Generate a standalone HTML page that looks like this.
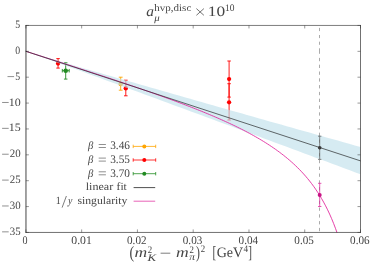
<!DOCTYPE html><html><head><meta charset="utf-8"><style>html,body{margin:0;padding:0;background:#fff;width:374px;height:262px;overflow:hidden}</style></head><body><svg width="374" height="262" viewBox="0 0 374 262" style="position:absolute;left:0;top:0;will-change:transform;font-family:'Liberation Serif',serif" text-rendering="geometricPrecision">
<rect width="374" height="262" fill="#fff"/>
<defs><clipPath id="c"><rect x="25.90" y="25.45" width="334.60" height="207.00"/></clipPath></defs>
<g stroke="#ffa500" stroke-width="0.90" fill="#ffa500" opacity="1"><path d="M120.70 77.20V90.20 M118.80 77.20H122.60 M118.80 90.20H122.60"/><circle cx="120.70" cy="83.90" r="2.25" stroke="none"/></g>
<g stroke="#ff0000" stroke-width="0.90" fill="#ff0000" opacity="1"><path d="M58.05 58.60V68.10 M56.30 58.60H59.80 M56.30 68.10H59.80"/><circle cx="58.05" cy="63.50" r="2.15" stroke="none"/></g>
<g stroke="#ff0000" stroke-width="0.90" fill="#ff0000" opacity="1"><path d="M125.80 80.20V95.80 M124.00 80.20H127.60 M124.00 95.80H127.60"/><circle cx="125.80" cy="88.30" r="2.20" stroke="none"/></g>
<g stroke="#ff0000" stroke-width="0.90" fill="#ff0000" opacity="1"><path d="M229.10 61.00V97.10 M227.35 61.00H230.85 M227.35 97.10H230.85"/><circle cx="229.10" cy="79.10" r="2.15" stroke="none"/></g>
<g stroke="#ff0000" stroke-width="0.90" fill="#ff0000" opacity="1"><path d="M229.10 83.70V120.00 M227.35 83.70H230.85 M227.35 120.00H230.85"/><circle cx="229.10" cy="102.30" r="2.15" stroke="none"/></g>
<g stroke="#228b22" stroke-width="0.90" fill="#228b22" opacity="1"><path d="M65.70 62.80V79.10 M63.95 62.80H67.45 M63.95 79.10H67.45"/><path d="M62.30 70.70H69.20 M62.30 68.95V72.45 M69.20 68.95V72.45"/><circle cx="65.70" cy="70.70" r="2.30" stroke="none"/></g>
<path d="M25.60 51.20 L31.28 52.91 L36.95 54.60 L42.63 56.28 L48.31 57.95 L53.98 59.62 L59.66 61.28 L65.33 62.94 L71.01 64.59 L76.69 66.24 L82.36 67.89 L88.04 69.53 L93.72 71.17 L99.39 72.81 L105.07 74.45 L110.74 76.09 L116.42 77.72 L122.10 79.35 L127.77 80.99 L133.45 82.61 L139.13 84.24 L144.80 85.87 L150.48 87.49 L156.15 89.12 L161.83 90.74 L167.51 92.36 L173.18 93.98 L178.86 95.60 L184.54 97.22 L190.21 98.84 L195.89 100.45 L201.56 102.07 L207.24 103.68 L212.92 105.30 L218.59 106.91 L224.27 108.52 L229.95 110.13 L235.62 111.74 L241.30 113.35 L246.97 114.96 L252.65 116.57 L258.33 118.17 L264.00 119.78 L269.68 121.39 L275.36 122.99 L281.03 124.59 L286.71 126.20 L292.38 127.80 L298.06 129.40 L303.74 131.00 L309.41 132.60 L315.09 134.20 L320.77 135.80 L326.44 137.40 L332.12 139.00 L337.79 140.60 L343.47 142.20 L349.15 143.79 L354.82 145.39 L360.50 146.98 L360.50 174.28 L354.82 172.16 L349.15 170.05 L343.47 167.94 L337.79 165.83 L332.12 163.72 L326.44 161.61 L320.77 159.50 L315.09 157.39 L309.41 155.28 L303.74 153.17 L298.06 151.06 L292.38 148.96 L286.71 146.85 L281.03 144.74 L275.36 142.64 L269.68 140.54 L264.00 138.43 L258.33 136.33 L252.65 134.23 L246.97 132.13 L241.30 130.03 L235.62 127.93 L229.95 125.83 L224.27 123.73 L218.59 121.63 L212.92 119.53 L207.24 117.44 L201.56 115.34 L195.89 113.25 L190.21 111.16 L184.54 109.06 L178.86 106.97 L173.18 104.88 L167.51 102.79 L161.83 100.71 L156.15 98.62 L150.48 96.53 L144.80 94.45 L139.13 92.37 L133.45 90.29 L127.77 88.21 L122.10 86.13 L116.42 84.05 L110.74 81.97 L105.07 79.90 L99.39 77.83 L93.72 75.76 L88.04 73.69 L82.36 71.62 L76.69 69.56 L71.01 67.50 L65.33 65.44 L59.66 63.39 L53.98 61.34 L48.31 59.29 L42.63 57.25 L36.95 55.22 L31.28 53.20 L25.60 51.20Z" fill="#c0e0eb" fill-opacity="0.65" clip-path="url(#c)"/>
<path d="M25.60 51.20 L27.60 51.84 L29.60 52.48 L31.60 53.12 L33.60 53.76 L35.60 54.40 L37.60 55.04 L39.60 55.68 L41.60 56.32 L43.60 56.97 L45.60 57.61 L47.60 58.25 L49.60 58.89 L51.60 59.53 L53.60 60.17 L55.60 60.82 L57.60 61.46 L59.60 62.10 L61.60 62.74 L63.60 63.39 L65.60 64.03 L67.60 64.68 L69.60 65.32 L71.60 65.97 L73.60 66.61 L75.60 67.26 L77.60 67.91 L79.60 68.55 L81.60 69.20 L83.60 69.85 L85.60 70.50 L87.60 71.15 L89.60 71.80 L91.60 72.46 L93.60 73.11 L95.60 73.76 L97.60 74.42 L99.60 75.07 L101.60 75.73 L103.60 76.39 L105.60 77.05 L107.60 77.71 L109.60 78.37 L111.60 79.03 L113.60 79.69 L115.60 80.36 L117.60 81.02 L119.60 81.69 L121.60 82.36 L123.60 83.03 L125.60 83.70 L127.60 84.38 L129.60 85.05 L131.60 85.73 L133.60 86.41 L135.60 87.09 L137.60 87.78 L139.60 88.46 L141.60 89.15 L143.60 89.84 L145.60 90.53 L147.60 91.23 L149.60 91.92 L151.60 92.62 L153.60 93.32 L155.60 94.03 L157.60 94.74 L159.60 95.45 L161.60 96.16 L163.60 96.88 L165.60 97.60 L167.60 98.33 L169.60 99.05 L171.60 99.78 L173.60 100.52 L175.60 101.26 L177.60 102.00 L179.60 102.75 L181.60 103.50 L183.60 104.26 L185.60 105.02 L187.60 105.79 L189.60 106.56 L191.60 107.33 L193.60 108.11 L195.60 108.90 L197.60 109.70 L199.60 110.50 L201.60 111.30 L203.60 112.12 L205.60 112.94 L207.60 113.76 L209.60 114.60 L211.60 115.44 L213.60 116.29 L215.60 117.15 L217.60 118.01 L219.60 118.89 L221.60 119.78 L223.60 120.67 L225.60 121.58 L227.60 122.49 L229.60 123.42 L231.60 124.36 L233.60 125.31 L235.60 126.28 L237.60 127.25 L239.60 128.24 L241.60 129.25 L243.60 130.27 L245.60 131.31 L247.60 132.36 L249.60 133.43 L251.60 134.52 L253.60 135.63 L255.60 136.75 L257.60 137.90 L259.60 139.07 L261.60 140.27 L263.60 141.48 L265.60 142.73 L267.60 144.00 L269.60 145.30 L271.60 146.63 L273.60 147.99 L275.60 149.39 L277.60 150.82 L279.60 152.29 L281.60 153.80 L283.60 155.35 L285.60 156.95 L287.60 158.59 L289.60 160.29 L291.60 162.04 L293.60 163.85 L295.60 165.72 L297.60 167.66 L299.60 169.67 L301.60 171.76 L303.60 173.93 L305.60 176.20 L307.60 178.56 L309.60 181.02 L311.60 183.60 L313.60 186.30 L315.60 189.14 L317.60 192.12 L319.60 195.26 L321.60 198.59 L323.60 202.10 L325.60 205.84 L327.60 209.81 L329.60 214.04 L331.60 218.58 L333.60 223.45 L335.60 228.69 L337.60 234.35 L339.60 240.50" fill="none" stroke="#e0209a" stroke-width="0.85" clip-path="url(#c)"/>
<path d="M25.60 51.20L360.50 160.88" stroke="#1a1a1a" stroke-width="0.65"/>
<path d="M319.5 27.90V31.10M319.5 35.00V38.10M319.5 41.70V44.80M319.5 48.30V53.80M319.5 57.90V61.20M319.5 64.70V68.00M319.5 71.50V74.80M319.5 78.30V81.60M319.5 85.10V88.40M319.5 91.90V95.20M319.5 98.70V102.00M319.5 105.50V108.80M319.5 112.30V115.60M319.5 119.10V122.40M319.5 125.90V129.20M319.5 132.70V136.00M319.5 139.50V142.80M319.5 146.30V149.60M319.5 153.10V156.40M319.5 159.90V163.20M319.5 166.70V170.00M319.5 173.50V176.80M319.5 180.30V183.60M319.5 187.10V190.40M319.5 193.90V197.20M319.5 200.70V204.00M319.5 207.50V210.80M319.5 214.30V217.60M319.5 221.10V224.40M319.5 227.90V231.20" stroke="#777" stroke-width="0.62"/>
<g stroke="#555" stroke-width="0.70" fill="#3a3a3a" opacity="1"><path d="M319.70 136.20V159.40 M318.00 136.20H321.40 M318.00 159.40H321.40"/><circle cx="319.70" cy="147.70" r="1.80" stroke="none"/></g>
<g stroke="#dd2299" stroke-width="0.75" fill="#c71585" opacity="1"><path d="M319.70 183.30V206.50 M318.00 183.30H321.40 M318.00 206.50H321.40"/><circle cx="319.70" cy="195.00" r="2.00" stroke="none"/></g>
<path d="M25.98 25.15V232.75" stroke="#111" stroke-width="0.78"/>
<path d="M360.50 25.15V232.75" stroke="#111" stroke-width="0.6"/>
<path d="M25.60 25.45H360.80" stroke="#111" stroke-width="0.55"/>
<path d="M25.60 232.45H360.80" stroke="#111" stroke-width="0.6"/>
<path d="M25.90 232.45v-3 M25.90 25.45v3 M81.67 232.45v-3 M81.67 25.45v3 M137.43 232.45v-3 M137.43 25.45v3 M193.20 232.45v-3 M193.20 25.45v3 M248.97 232.45v-3 M248.97 25.45v3 M304.73 232.45v-3 M304.73 25.45v3 M360.50 232.45v-3 M360.50 25.45v3 M25.90 232.45h3 M360.50 232.45h-3 M25.90 206.57h3 M360.50 206.57h-3 M25.90 180.70h3 M360.50 180.70h-3 M25.90 154.82h3 M360.50 154.82h-3 M25.90 128.95h3 M360.50 128.95h-3 M25.90 103.08h3 M360.50 103.08h-3 M25.90 77.20h3 M360.50 77.20h-3 M25.90 51.33h3 M360.50 51.33h-3 M25.90 25.45h3 M360.50 25.45h-3 " stroke="#333" stroke-width="0.5"/>
<path d="M2.10 231.85h6.6" stroke="#454545" stroke-width="0.6"/>
<path d="M2.10 205.97h6.6" stroke="#454545" stroke-width="0.6"/>
<path d="M2.10 180.10h6.6" stroke="#454545" stroke-width="0.6"/>
<path d="M2.10 154.22h6.6" stroke="#454545" stroke-width="0.6"/>
<path d="M2.10 128.35h6.6" stroke="#454545" stroke-width="0.6"/>
<path d="M2.10 102.48h6.6" stroke="#454545" stroke-width="0.6"/>
<path d="M7.50 76.60h6.6" stroke="#454545" stroke-width="0.6"/>
<path d="M98.7 144.50h7.2M98.7 147.50h7.2" stroke="#454545" stroke-width="0.6"/>
<g stroke="#ffa500" stroke-width="0.80" fill="#ffa500" opacity="1"><path d="M133.20 146.40H155.70 M133.20 144.70V148.10 M155.70 144.70V148.10"/><circle cx="144.30" cy="146.40" r="2.00" stroke="none"/></g>
<path d="M98.7 158.10h7.2M98.7 161.10h7.2" stroke="#454545" stroke-width="0.6"/>
<g stroke="#ff0000" stroke-width="0.80" fill="#ff0000" opacity="1"><path d="M133.20 160.00H155.70 M133.20 158.30V161.70 M155.70 158.30V161.70"/><circle cx="144.30" cy="160.00" r="2.00" stroke="none"/></g>
<path d="M98.7 171.80h7.2M98.7 174.80h7.2" stroke="#454545" stroke-width="0.6"/>
<g stroke="#228b22" stroke-width="0.80" fill="#228b22" opacity="1"><path d="M133.20 173.70H155.70 M133.20 172.00V175.40 M155.70 172.00V175.40"/><circle cx="144.30" cy="173.70" r="2.00" stroke="none"/></g>
<path d="M62.1 207.6L66.4 196" stroke="#454545" stroke-width="0.7"/>
<path d="M133.6 187.60H155.2" stroke="#222" stroke-width="0.8"/>
<path d="M133.6 201.20H155.2" stroke="#e0209a" stroke-width="0.7"/>
<path d="M196.4 8.6L203.9 15.3M203.9 8.6L196.4 15.3" stroke="#454545" stroke-width="0.75"/>
<path d="M160.6 253.2h9.7" stroke="#454545" stroke-width="0.7"/>
<g style="filter:grayscale(1)"><text transform="translate(9.80 234.90) scale(0.964 1)" font-size="11.3px"  fill="#454545">35</text>
<text transform="translate(9.80 209.02) scale(0.964 1)" font-size="11.3px"  fill="#454545">30</text>
<text transform="translate(9.80 183.15) scale(0.964 1)" font-size="11.3px"  fill="#454545">25</text>
<text transform="translate(9.80 157.27) scale(0.964 1)" font-size="11.3px"  fill="#454545">20</text>
<text transform="translate(8.74 131.40) scale(1.060 1)" font-size="11.3px"  fill="#454545">15</text>
<text transform="translate(8.74 105.53) scale(1.060 1)" font-size="11.3px"  fill="#454545">10</text>
<text transform="translate(15.20 79.65) scale(0.867 1)" font-size="11.3px"  fill="#454545">5</text>
<text transform="translate(15.20 53.78) scale(0.867 1)" font-size="11.3px"  fill="#454545">0</text>
<text transform="translate(15.20 27.90) scale(0.867 1)" font-size="11.3px"  fill="#454545">5</text>
<text transform="translate(22.40 244.00) scale(0.867 1)" font-size="11.6px"  fill="#454545">0</text>
<text transform="translate(71.27 244.00) scale(1.011 1)" font-size="11.6px"  fill="#454545">0.01</text>
<text transform="translate(127.03 244.00) scale(0.960 1)" font-size="11.6px"  fill="#454545">0.02</text>
<text transform="translate(182.80 244.00) scale(0.960 1)" font-size="11.6px"  fill="#454545">0.03</text>
<text transform="translate(238.57 244.00) scale(0.960 1)" font-size="11.6px"  fill="#454545">0.04</text>
<text transform="translate(294.33 244.00) scale(0.960 1)" font-size="11.6px"  fill="#454545">0.05</text>
<text transform="translate(350.10 244.00) scale(0.960 1)" font-size="11.6px"  fill="#454545">0.06</text>
<text transform="translate(88.10 149.30) scale(0.967 1)" font-size="11px" font-style="italic" fill="#454545">β</text>
<text transform="translate(110.20 149.30) scale(0.975 1)" font-size="11.6px"  fill="#454545">3.46</text>
<text transform="translate(88.10 162.90) scale(0.967 1)" font-size="11px" font-style="italic" fill="#454545">β</text>
<text transform="translate(110.20 162.90) scale(0.975 1)" font-size="11.6px"  fill="#454545">3.55</text>
<text transform="translate(88.10 176.60) scale(0.967 1)" font-size="11px" font-style="italic" fill="#454545">β</text>
<text transform="translate(110.20 176.60) scale(0.975 1)" font-size="11.6px"  fill="#454545">3.70</text>
<text transform="translate(85.70 190.40) scale(1.100 1)" font-size="11px"  fill="#454545">linear</text>
<text transform="translate(116.56 190.40) scale(1.044 1)" font-size="11px"  fill="#454545">fit</text>
<text transform="translate(55.70 204.20) scale(0.900 1)" font-size="11px"  fill="#454545">1</text>
<text transform="translate(68.00 204.20) scale(0.900 1)" font-size="11px" font-style="italic" fill="#454545">y</text>
<text transform="translate(77.40 204.20) scale(1.064 1)" font-size="11px"  fill="#454545">singularity</text>
<text transform="translate(146.20 15.70) scale(1.071 1)" font-size="14.4px" font-style="italic" fill="#454545">a</text>
<text transform="translate(154.30 10.80) scale(1.100 1)" font-size="10px"  fill="#454545">hvp,disc</text>
<text transform="translate(154.30 20.70) scale(1.080 1)" font-size="10px" font-style="italic" fill="#454545">μ</text>
<text transform="translate(207.78 15.70) scale(1.208 1)" font-size="14.4px"  fill="#454545">10</text>
<text transform="translate(224.96 10.80) scale(0.944 1)" font-size="10px"  fill="#454545">10</text>
<text transform="translate(129.50 258.10) scale(0.800 1)" font-size="17.3px"  fill="#454545">(</text>
<text transform="translate(134.50 256.90) scale(1.220 1)" font-size="14.4px" font-style="italic" fill="#454545">m</text>
<text transform="translate(147.80 252.60) scale(0.880 1)" font-size="10px"  fill="#454545">2</text>
<text transform="translate(147.40 261.00) scale(1.286 1)" font-size="10px" font-style="italic" fill="#454545">K</text>
<text transform="translate(176.00 256.90) scale(1.220 1)" font-size="14.4px" font-style="italic" fill="#454545">m</text>
<text transform="translate(189.40 252.60) scale(0.880 1)" font-size="10px"  fill="#454545">2</text>
<text transform="translate(189.20 260.20) scale(1.160 1)" font-size="10px" font-style="italic" fill="#454545">π</text>
<text transform="translate(196.00 258.10) scale(0.680 1)" font-size="17.3px"  fill="#454545">)</text>
<text transform="translate(200.70 251.60) scale(0.880 1)" font-size="10px"  fill="#454545">2</text>
<text transform="translate(212.45 258.10) scale(0.650 1)" font-size="17.3px"  fill="#454545">[</text>
<text transform="translate(216.70 256.90) scale(0.974 1)" font-size="14.4px"  fill="#454545">GeV</text>
<text transform="translate(243.60 251.60) scale(0.920 1)" font-size="10px"  fill="#454545">4</text>
<text transform="translate(248.15 258.10) scale(0.650 1)" font-size="17.3px"  fill="#454545">]</text></g>
</svg></body></html>
